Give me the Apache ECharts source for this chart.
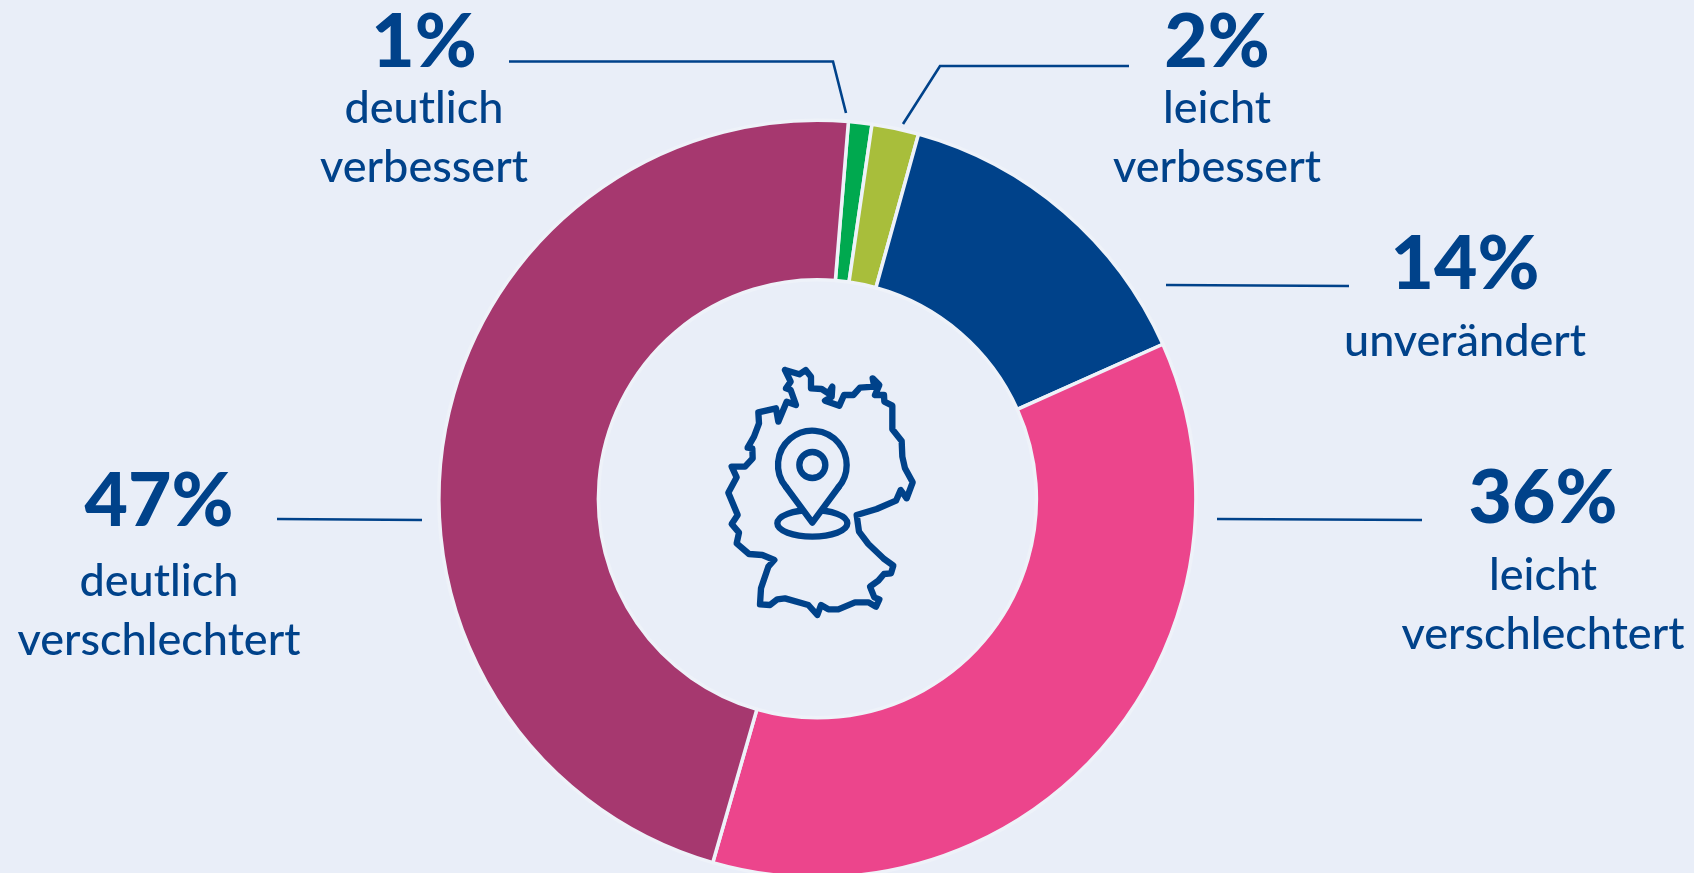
<!DOCTYPE html>
<html><head><meta charset="utf-8">
<style>html,body{margin:0;padding:0;background:#E9EEF8;overflow:hidden}#c{width:1694px;height:873px}</style>
<script src="https://cdn.jsdelivr.net/npm/echarts@6/dist/echarts.min.js"></script>
</head><body><div id="c"></div>
<script>
// Data
const categories = ['deutlich\nverbessert','leicht\nverbessert','unverändert','leicht\nverschlechtert','deutlich\nverschlechtert'];
const percentages = [1,2,14,36,47];
const sliceValues = [1,2,14,36.15,46.85];
const colors = ['#00A94F','#A8BE3B','#00428A','#EC458C','#A6386F'];
// Layout (label anchor, percent line height, leader lines, icon)
const labelAnchors = [[424,7],[1217,7],[1465,218],[1543,452],[159,452]];
const pctStyle = ['t','t','m','m','l'];
const leaderLines = [
  [[509,61.5],[833,61.5],[846,113]],
  [[1129,66],[940,66],[903,124]],
  [[1166,285],[1349,286]],
  [[1217,519],[1422,520]],
  [[277,519],[422,520]]
];
const ink = '#00428A', bg = '#E9EEF8';
const mapOutline = [[315,90],[358,103],[377,90],[393,110],[393,145],[425,147],[445,160],[457,140],[455,170],[435,182],[478,197],[492,165],[520,165],[540,143],[583,140],[578,115],[598,135],[585,165],[612,165],[613,185],[637,197],[637,268],[665,303],[667,350],[675,385],[698,427],[680,475],[662,450],[648,482],[590,507],[530,525],[537,575],[565,612],[610,655],[640,677],[633,700],[612,702],[595,722],[570,740],[583,772],[598,778],[588,800],[565,787],[525,787],[475,808],[445,808],[423,795],[412,825],[385,795],[315,775],[292,778],[270,795],[240,793],[243,745],[265,680],[283,660],[247,645],[207,642],[170,610],[177,578],[155,552],[173,525],[145,458],[170,412],[155,380],[195,380],[218,355],[217,325],[203,323],[222,290],[237,250],[235,217],[288,205],[295,245],[320,185],[348,195],[332,150],[318,145],[332,125],[315,90]];
const iconStroke = {stroke:ink,lineWidth:19,fill:null,lineJoin:'round',lineCap:'round'};
const iconChildren = [
  {type:'polyline',shape:{points:mapOutline},style:iconStroke},
  {type:'ellipse',shape:{cx:397,cy:550,rx:105,ry:40},style:iconStroke},
  {type:'polygon',shape:{points:[[318,441],[476,441],[397,548]]},style:{fill:bg,stroke:null}},
  {type:'polyline',shape:{points:[[318,441],[397,548],[476,441]]},style:iconStroke},
  {type:'arc',shape:{cx:397,cy:375,r:103,startAngle:Math.PI*140/180,endAngle:Math.PI*400/180,clockwise:true},style:iconStroke},
  {type:'circle',shape:{cx:397,cy:375,r:39},style:iconStroke}
];

const pctRich = (h)=>({fontFamily:'Lato',fontWeight:900,fontSize:75,lineHeight:h,color:ink,align:'center'});
const chart = echarts.init(document.getElementById('c'),null,{renderer:'canvas'});
chart.setOption({
  backgroundColor:bg,
  animation:false,
  textStyle:{fontFamily:'Lato'},
  graphic:[
    ...leaderLines.map(p=>({type:'polyline',shape:{points:p},style:{stroke:ink,lineWidth:2.6,fill:null},z:5})),
    {type:'group',x:680,y:340,scaleX:1/3,scaleY:1/3,children:iconChildren,z:5}
  ],
  series:[{
    type:'pie',
    center:[817.4,498.8],
    radius:[219,378.5],
    startAngle:85.3,
    clockwise:true,
    avoidLabelOverlap:false,
    itemStyle:{borderColor:'#EEF2F9',borderWidth:3.5},
    emphasis:{disabled:true},
    labelLine:{show:false},
    label:{
      show:true,
      formatter:p=>'{'+pctStyle[p.dataIndex]+'|'+percentages[p.dataIndex]+'%}\n'+p.name.split('\n').map(s=>'{n|'+s+'}').join('\n'),
      color:ink,
      align:'center',
      rich:{
        t:pctRich(72),
        m:pctRich(94),
        l:pctRich(100),
        n:{fontFamily:'Lato',fontWeight:500,fontSize:45,lineHeight:59,color:ink,align:'center'}
      }
    },
    labelLayout:p=>({x:labelAnchors[p.dataIndex][0],y:labelAnchors[p.dataIndex][1],align:'center',verticalAlign:'top'}),
    data:categories.map((n,i)=>({name:n,value:sliceValues[i],itemStyle:{color:colors[i]}}))
  }]
});
</script></body></html>
